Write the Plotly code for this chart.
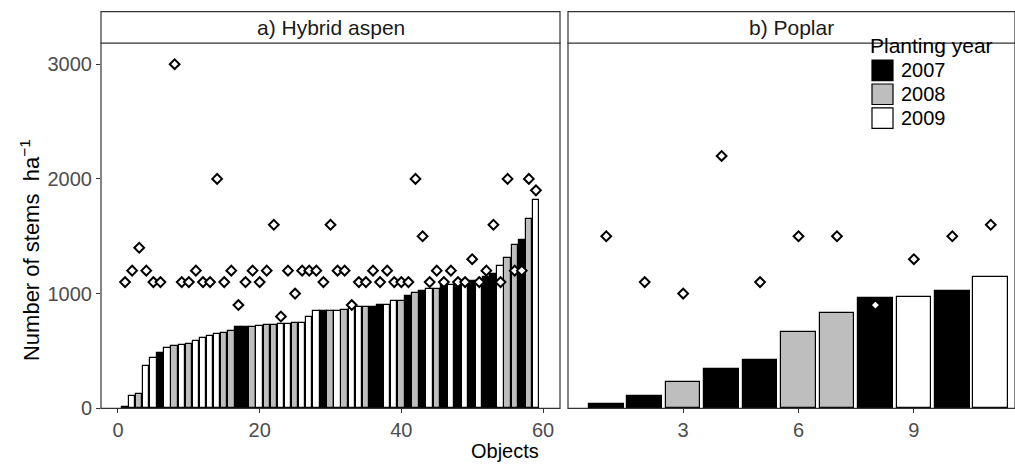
import plotly.graph_objects as go

# ---------------- data ----------------
aspen_objects = list(range(1, 60))
aspen_stems = [15, 108, 125, 370, 440, 480, 530, 545, 548, 565,
               585, 614, 630, 645, 656, 678, 708, 708, 710, 715,
               725, 728, 735, 736, 742, 745, 795, 845, 845, 845,
               850, 860, 862, 882, 884, 884, 898, 900, 932, 935,
               975, 1003, 1020, 1037, 1040, 1074, 1075, 1083, 1085, 1110,
               1112, 1148, 1168, 1240, 1310, 1424, 1466, 1651, 1816]
aspen_year = [2007, 2009, 2008, 2009, 2009, 2007, 2009, 2008, 2009, 2008,
              2009, 2009, 2009, 2009, 2008, 2008, 2007, 2007, 2008, 2009,
              2008, 2008, 2009, 2009, 2008, 2009, 2009, 2009, 2007, 2008,
              2009, 2008, 2009, 2009, 2008, 2007, 2007, 2009, 2009, 2008,
              2007, 2008, 2007, 2009, 2008, 2007, 2009, 2007, 2009, 2007,
              2009, 2007, 2007, 2009, 2008, 2008, 2007, 2008, 2009]
aspen_planted = [1100, 1200, 1400, 1200, 1100, 1100, None, 3000, 1100, 1100,
                 1200, 1100, 1100, 2000, 1100, 1200, 900, 1100, 1200, 1100,
                 1200, 1600, 800, 1200, 1000, 1200, 1200, 1200, 1100, 1600,
                 1200, 1200, 900, 1100, 1100, 1200, 1100, 1200, 1100, 1100,
                 1100, 2000, 1500, 1100, 1200, 1100, 1200, 1100, 1100, 1300,
                 1100, 1200, 1600, 1100, 2000, 1200, 1200, 2000, 1900]

poplar_objects = list(range(1, 12))
poplar_stems = [37, 110, 229, 340, 424, 668, 827, 961, 970, 1024, 1147]
poplar_year = [2007, 2007, 2008, 2007, 2007, 2008, 2008, 2007, 2009, 2007, 2009]
poplar_planted = [1500, 1100, 1000, 2200, 1100, 1500, 1500, 900, 1300, 1500, 1600]

years = [2007, 2008, 2009]
year_colors = {2007: "#000000", 2008: "#BEBEBE", 2009: "#FFFFFF"}

panel_titles = ["a) Hybrid aspen", "b) Poplar"]
legend_title = "Planting year"
y_ticks = [0, 1000, 2000, 3000]
aspen_xticks = [0, 20, 40, 60]
poplar_xticks = [3, 6, 9]

# ---------------- figure ----------------
W, H = 1015, 473
FONT = "Liberation Sans, Arial, sans-serif"

fig = go.Figure()

panels = [
    ("x", aspen_objects, aspen_stems, aspen_year, aspen_planted),
    ("x2", poplar_objects, poplar_stems, poplar_year, poplar_planted),
]
for pi, (xa, objs, stems, yrs, planted) in enumerate(panels):
    for yr in years:
        xs = [o for o, yy in zip(objs, yrs) if yy == yr]
        ys = [s for s, yy in zip(stems, yrs) if yy == yr]
        fig.add_trace(go.Bar(
            x=xs, y=ys, xaxis=xa, yaxis="y", width=0.9,
            marker=dict(color=year_colors[yr], line=dict(color="#000000", width=1.2)),
            name=str(yr), showlegend=False,
        ))
    fig.add_trace(go.Scatter(
        x=objs, y=planted, xaxis=xa, yaxis="y", mode="markers",
        marker=dict(symbol="diamond", size=7.5, color="#FFFFFF",
                    line=dict(color="#000000", width=2)),
        showlegend=False, cliponaxis=False,
    ))

def px_x(p):
    return p / W

def px_y(p):
    return 1 - p / H

left_dom = [px_x(101), px_x(560)]
right_dom = [px_x(568), 1.0]
y_dom = [px_y(418), px_y(44)]

axis_common = dict(
    showgrid=False, zeroline=False, showline=False,
    ticks="outside", ticklen=4, tickcolor="#333333", tickwidth=1,
    tickfont=dict(family=FONT, size=20, color="#4D4D4D"),
)

fig.update_layout(
    width=W, height=H, autosize=False,
    margin=dict(l=0, r=0, t=0, b=0),
    paper_bgcolor="#FFFFFF", plot_bgcolor="#FFFFFF",
    barmode="overlay", bargap=0,
    font=dict(family=FONT, size=20, color="#000000"),
    xaxis=dict(domain=left_dom, range=[-2.395, 62.395], anchor="y",
               tickvals=aspen_xticks, **axis_common),
    xaxis2=dict(domain=right_dom, range=[0.005, 0.005 + (W - 568) / 38.45], anchor="y",
                tickvals=poplar_xticks, **axis_common),
    yaxis=dict(domain=y_dom, range=[0, 3185], anchor="x",
               tickvals=y_ticks, **axis_common),
    showlegend=False,
)

shapes = []
annotations = []
for xa, title in zip(["x", "x2"], panel_titles):
    shapes.append(dict(type="rect", xref=f"{xa} domain", yref="paper",
                       x0=0, x1=1, y0=y_dom[0], y1=y_dom[1],
                       line=dict(color="#333333", width=1.2), fillcolor="rgba(0,0,0,0)",
                       layer="above"))
    shapes.append(dict(type="rect", xref=f"{xa} domain", yref="paper",
                       x0=0, x1=1, y0=y_dom[1], y1=px_y(12),
                       line=dict(color="#333333", width=1.2), fillcolor="#FFFFFF",
                       layer="above"))
    annotations.append(dict(text=title, xref=f"{xa} domain", yref="paper",
                            x=0.5, y=(y_dom[1] + px_y(12)) / 2,
                            xanchor="center", yanchor="middle", showarrow=False,
                            font=dict(family=FONT, size=21, color="#1A1A1A")))

# manual legend (keys built from the year list)
annotations.append(dict(text=legend_title, xref="paper", yref="paper",
                        x=px_x(868), y=px_y(47), xanchor="left", yanchor="middle",
                        showarrow=False, font=dict(family=FONT, size=21, color="#000000")))
for i, yr in enumerate(years):
    cy = 72 + i * 24.5
    shapes.append(dict(type="rect", xref="paper", yref="paper",
                       x0=px_x(872), x1=px_x(893), y0=px_y(cy + 10.5), y1=px_y(cy - 10.5),
                       fillcolor=year_colors[yr], line=dict(color="#000000", width=1.2),
                       layer="above"))
    annotations.append(dict(text=str(yr), xref="paper", yref="paper",
                            x=px_x(899), y=px_y(cy), xanchor="left", yanchor="middle",
                            showarrow=False, font=dict(family=FONT, size=20, color="#000000")))

annotations.append(dict(text="Number of stems  ha<sup>\u22121</sup>", xref="paper", yref="paper",
                        x=px_x(30), y=px_y(256), textangle=-90,
                        xanchor="center", yanchor="middle", showarrow=False,
                        font=dict(family=FONT, size=22, color="#000000")))
annotations.append(dict(text="Objects", xref="paper", yref="paper",
                        x=px_x(505), y=px_y(462),
                        xanchor="center", yanchor="middle", showarrow=False,
                        font=dict(family=FONT, size=20, color="#000000")))

fig.update_layout(shapes=shapes, annotations=annotations)

fig.write_html(
    "out.html",
    config={"responsive": False, "displayModeBar": False},
    post_script="document.body.style.margin='0';document.body.style.overflow='hidden';",
)
